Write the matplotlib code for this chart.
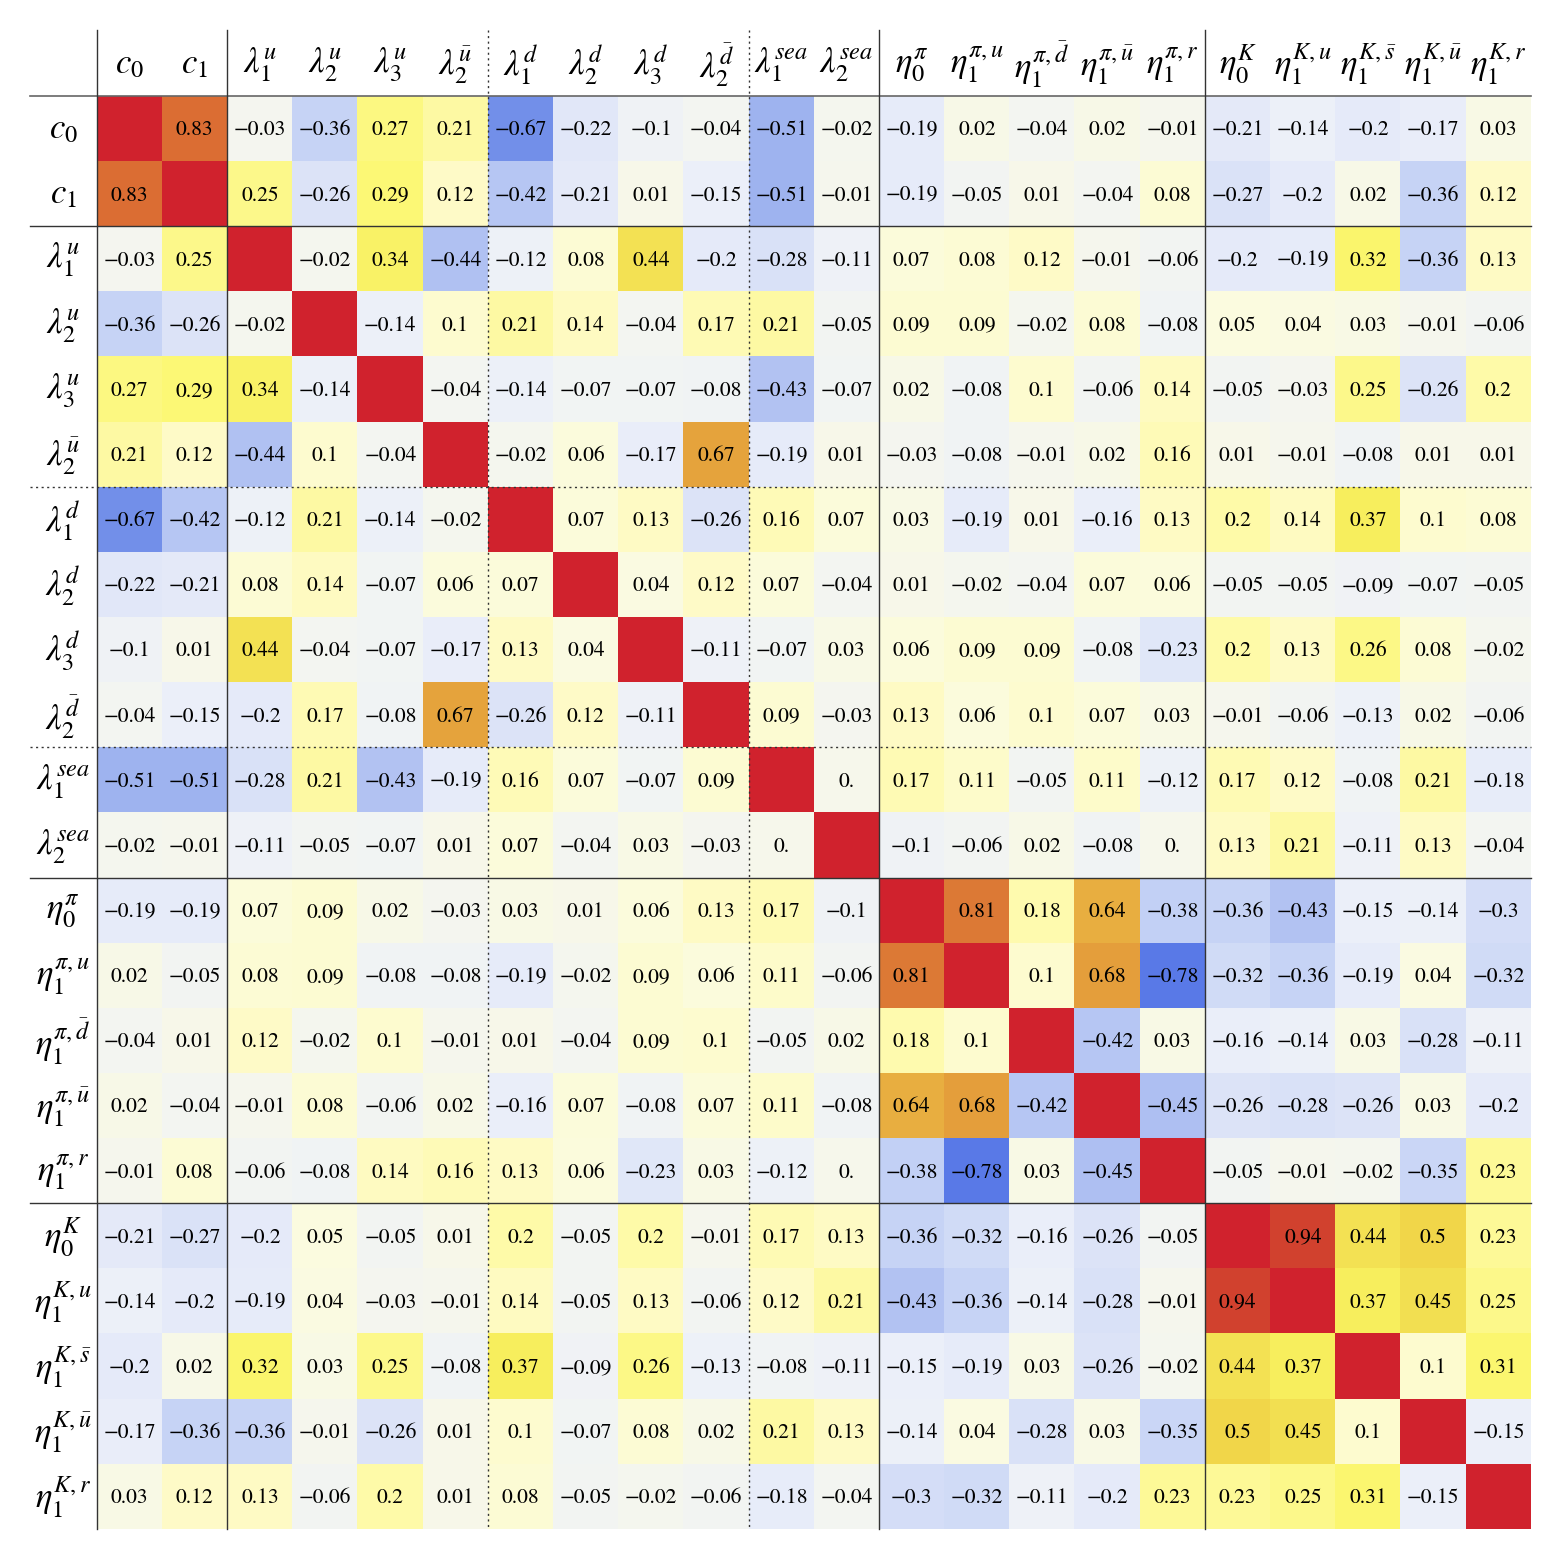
"""Correlation matrix of fit parameters"""

import matplotlib
matplotlib.use('Agg')
from matplotlib import pyplot as plt
from matplotlib.colors import LinearSegmentedColormap
import numpy as np

labels = [r'$c_0$', r'$c_1$',
          r'$\lambda_1^u$', r'$\lambda_2^u$', r'$\lambda_3^u$', r'$\lambda_2^{\bar{u}}$',
          r'$\lambda_1^d$', r'$\lambda_2^d$', r'$\lambda_3^d$', r'$\lambda_2^{\bar{d}}$',
          r'$\lambda_1^{sea}$', r'$\lambda_2^{sea}$',
          r'$\eta_0^\pi$', r'$\eta_1^{\pi,u}$', r'$\eta_1^{\pi,\bar{d}}$',
          r'$\eta_1^{\pi,\bar{u}}$', r'$\eta_1^{\pi,r}$',
          r'$\eta_0^K$', r'$\eta_1^{K,u}$', r'$\eta_1^{K,\bar{s}}$',
          r'$\eta_1^{K,\bar{u}}$', r'$\eta_1^{K,r}$']

corr = [
    [1, 0.83, -0.03, -0.36, 0.27, 0.21, -0.67, -0.22, -0.1, -0.04, -0.51, -0.02, -0.19, 0.02, -0.04, 0.02, -0.01, -0.21, -0.14, -0.2, -0.17, 0.03],
    [0.83, 1, 0.25, -0.26, 0.29, 0.12, -0.42, -0.21, 0.01, -0.15, -0.51, -0.01, -0.19, -0.05, 0.01, -0.04, 0.08, -0.27, -0.2, 0.02, -0.36, 0.12],
    [-0.03, 0.25, 1, -0.02, 0.34, -0.44, -0.12, 0.08, 0.44, -0.2, -0.28, -0.11, 0.07, 0.08, 0.12, -0.01, -0.06, -0.2, -0.19, 0.32, -0.36, 0.13],
    [-0.36, -0.26, -0.02, 1, -0.14, 0.1, 0.21, 0.14, -0.04, 0.17, 0.21, -0.05, 0.09, 0.09, -0.02, 0.08, -0.08, 0.05, 0.04, 0.03, -0.01, -0.06],
    [0.27, 0.29, 0.34, -0.14, 1, -0.04, -0.14, -0.07, -0.07, -0.08, -0.43, -0.07, 0.02, -0.08, 0.1, -0.06, 0.14, -0.05, -0.03, 0.25, -0.26, 0.2],
    [0.21, 0.12, -0.44, 0.1, -0.04, 1, -0.02, 0.06, -0.17, 0.67, -0.19, 0.01, -0.03, -0.08, -0.01, 0.02, 0.16, 0.01, -0.01, -0.08, 0.01, 0.01],
    [-0.67, -0.42, -0.12, 0.21, -0.14, -0.02, 1, 0.07, 0.13, -0.26, 0.16, 0.07, 0.03, -0.19, 0.01, -0.16, 0.13, 0.2, 0.14, 0.37, 0.1, 0.08],
    [-0.22, -0.21, 0.08, 0.14, -0.07, 0.06, 0.07, 1, 0.04, 0.12, 0.07, -0.04, 0.01, -0.02, -0.04, 0.07, 0.06, -0.05, -0.05, -0.09, -0.07, -0.05],
    [-0.1, 0.01, 0.44, -0.04, -0.07, -0.17, 0.13, 0.04, 1, -0.11, -0.07, 0.03, 0.06, 0.09, 0.09, -0.08, -0.23, 0.2, 0.13, 0.26, 0.08, -0.02],
    [-0.04, -0.15, -0.2, 0.17, -0.08, 0.67, -0.26, 0.12, -0.11, 1, 0.09, -0.03, 0.13, 0.06, 0.1, 0.07, 0.03, -0.01, -0.06, -0.13, 0.02, -0.06],
    [-0.51, -0.51, -0.28, 0.21, -0.43, -0.19, 0.16, 0.07, -0.07, 0.09, 1, 0.0, 0.17, 0.11, -0.05, 0.11, -0.12, 0.17, 0.12, -0.08, 0.21, -0.18],
    [-0.02, -0.01, -0.11, -0.05, -0.07, 0.01, 0.07, -0.04, 0.03, -0.03, 0.0, 1, -0.1, -0.06, 0.02, -0.08, 0.0, 0.13, 0.21, -0.11, 0.13, -0.04],
    [-0.19, -0.19, 0.07, 0.09, 0.02, -0.03, 0.03, 0.01, 0.06, 0.13, 0.17, -0.1, 1, 0.81, 0.18, 0.64, -0.38, -0.36, -0.43, -0.15, -0.14, -0.3],
    [0.02, -0.05, 0.08, 0.09, -0.08, -0.08, -0.19, -0.02, 0.09, 0.06, 0.11, -0.06, 0.81, 1, 0.1, 0.68, -0.78, -0.32, -0.36, -0.19, 0.04, -0.32],
    [-0.04, 0.01, 0.12, -0.02, 0.1, -0.01, 0.01, -0.04, 0.09, 0.1, -0.05, 0.02, 0.18, 0.1, 1, -0.42, 0.03, -0.16, -0.14, 0.03, -0.28, -0.11],
    [0.02, -0.04, -0.01, 0.08, -0.06, 0.02, -0.16, 0.07, -0.08, 0.07, 0.11, -0.08, 0.64, 0.68, -0.42, 1, -0.45, -0.26, -0.28, -0.26, 0.03, -0.2],
    [-0.01, 0.08, -0.06, -0.08, 0.14, 0.16, 0.13, 0.06, -0.23, 0.03, -0.12, 0.0, -0.38, -0.78, 0.03, -0.45, 1, -0.05, -0.01, -0.02, -0.35, 0.23],
    [-0.21, -0.27, -0.2, 0.05, -0.05, 0.01, 0.2, -0.05, 0.2, -0.01, 0.17, 0.13, -0.36, -0.32, -0.16, -0.26, -0.05, 1, 0.94, 0.44, 0.5, 0.23],
    [-0.14, -0.2, -0.19, 0.04, -0.03, -0.01, 0.14, -0.05, 0.13, -0.06, 0.12, 0.21, -0.43, -0.36, -0.14, -0.28, -0.01, 0.94, 1, 0.37, 0.45, 0.25],
    [-0.2, 0.02, 0.32, 0.03, 0.25, -0.08, 0.37, -0.09, 0.26, -0.13, -0.08, -0.11, -0.15, -0.19, 0.03, -0.26, -0.02, 0.44, 0.37, 1, 0.1, 0.31],
    [-0.17, -0.36, -0.36, -0.01, -0.26, 0.01, 0.1, -0.07, 0.08, 0.02, 0.21, 0.13, -0.14, 0.04, -0.28, 0.03, -0.35, 0.5, 0.45, 0.1, 1, -0.15],
    [0.03, 0.12, 0.13, -0.06, 0.2, 0.01, 0.08, -0.05, -0.02, -0.06, -0.18, -0.04, -0.3, -0.32, -0.11, -0.2, 0.23, 0.23, 0.25, 0.31, -0.15, 1],
]

solid_breaks = [2, 12, 17]
dotted_breaks = [6, 10]

# temperature-like map, blue -> pale -> yellow -> red
cmap_nodes = [(-1.0, '#3a58e2'), (-0.78, '#5a7ae8'), (-0.67, '#7390ea'),
              (-0.51, '#a0b4f0'), (-0.43, '#b4c4f3'), (-0.36, '#c8d5f6'),
              (-0.26, '#dde4f8'), (-0.15, '#ecf0fa'), (-0.05, '#f3f5f2'),
              (0.0, '#f6f7ec'), (0.05, '#fbfbe0'), (0.12, '#fefbc8'),
              (0.2, '#fefaa8'), (0.3, '#fcf872'), (0.37, '#f8ef5e'),
              (0.45, '#f3e052'), (0.5, '#f2d84a'), (0.64, '#e8ae40'),
              (0.68, '#e5a03c'), (0.81, '#dd7a36'), (0.83, '#dc7034'),
              (0.94, '#d2442f'), (1.0, '#d0222d')]


def fmt(v):
    """Mathematica-like number format"""
    v = round(v, 2)
    if v == 0:
        return '0.'
    s = f'{v:g}'
    return s.replace('-', '\u2212')


def corr_matrix():
    plt.rcParams['mathtext.fontset'] = 'stix'
    plt.rcParams['font.family'] = ['STIXGeneral', 'DejaVu Serif']

    n = len(labels)
    data = np.array(corr)

    cmap = LinearSegmentedColormap.from_list(
        'temp', [((v + 1) / 2, c) for v, c in cmap_nodes])

    f = plt.figure(figsize=(15.62, 15.60), dpi=100)
    ax = f.add_axes([97 / 1562, 31 / 1560, 1434 / 1562, 1433 / 1560])

    ax.imshow(data, cmap=cmap, vmin=-1, vmax=1, extent=(0, n, n, 0),
              aspect='auto', interpolation='nearest')

    for i in range(n):
        for j in range(n):
            if i == j:
                continue
            ax.text(j + 0.5, i + 0.53, fmt(data[i, j]), ha='center',
                    va='center', fontsize=15.5)

    for k, lab in enumerate(labels):
        ax.text(k + 0.5, -0.48, lab, ha='center', va='center', fontsize=25,
                clip_on=False)
        ax.text(-0.52, k + 0.52, lab, ha='center', va='center', fontsize=25,
                clip_on=False)

    # header rules
    ax.plot([-1.03, n], [0, 0], color='#666666', lw=1.2, clip_on=False)
    ax.plot([0, 0], [-1.01, n], color='#333333', lw=1.0, clip_on=False)

    for b in solid_breaks:
        ax.plot([b, b], [-1.01, n], color='#333333', lw=1.0, clip_on=False)
        ax.plot([-1.03, n], [b, b], color='#333333', lw=1.0, clip_on=False)
    for b in dotted_breaks:
        ax.plot([b, b], [-1.01, n], color='#333333', lw=1.0, ls=(0, (1.5, 2.5)),
                clip_on=False)
        ax.plot([-1.03, n], [b, b], color='#333333', lw=1.0, ls=(0, (1.5, 2.5)),
                clip_on=False)

    ax.set_xlim(0, n)
    ax.set_ylim(n, 0)
    ax.axis('off')

    plt.savefig('out.png', dpi=100)


if __name__ == "__main__":
    corr_matrix()
